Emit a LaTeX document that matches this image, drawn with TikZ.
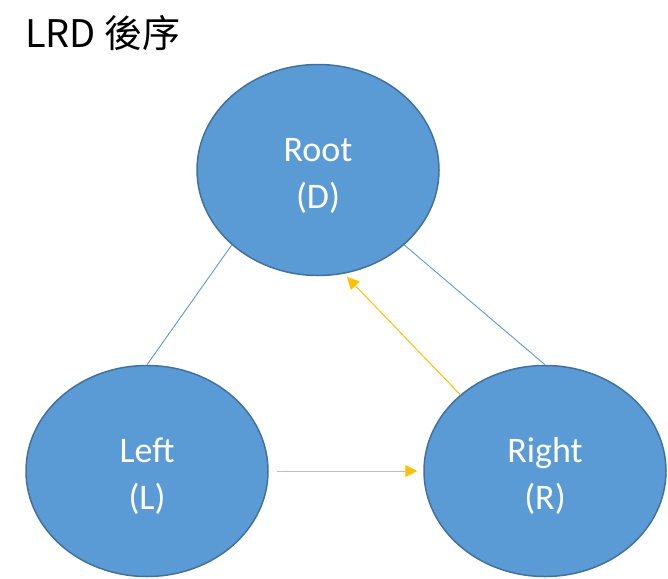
\documentclass[tikz,border=0pt]{standalone}
\usepackage{fontspec}
\setmainfont{Carlito}
\newfontfamily\cjk{Noto Sans CJK TC}
\usetikzlibrary{shapes.geometric,arrows.meta}
\definecolor{nodefill}{HTML}{5B9BD5}
\definecolor{nodeedge}{HTML}{41719C}
\definecolor{ylw}{HTML}{FFC000}
\newcommand{\topstrut}{\rule{0pt}{34pt}}
\tikzset{
  tnode/.style={ellipse, draw=nodeedge, fill=nodefill, line width=1.5pt,
    minimum width=242pt, minimum height=211pt, inner sep=0pt,
    text=white, align=center, font=\fontsize{36}{47}\selectfont},
  treeline/.style={draw=nodefill, line width=0.9pt},
  ordarrow/.style={draw=ylw, line width=1pt, -{Triangle[length=12pt,width=12pt]}}
}
\begin{document}
\begin{tikzpicture}[x=1pt,y=-1pt]
\useasboundingbox (0,0) rectangle (668,578);
\node[anchor=base west, inner sep=0pt, font=\cjk\fontsize{38}{42}\selectfont] (title) at (25,48) {LRD 後序};
\node[tnode] (root) at (318,170) {\topstrut Root\\(D)};
\node[tnode] (left) at (147,471) {\topstrut Left\\(L)};
\node[tnode] (right) at (545,471) {\topstrut Right\\(R)};
\coordinate (tipD) at (347,277);
\draw[treeline] (root.221.8) -- (left.north);
\draw[treeline] (root.-41.1) -- (right.north);
\draw[ordarrow, shorten <=8pt, shorten >=6pt] (left.east) -- (right.west);
\draw[ordarrow] (right.138.9) -- (tipD);
\end{tikzpicture}
\end{document}
